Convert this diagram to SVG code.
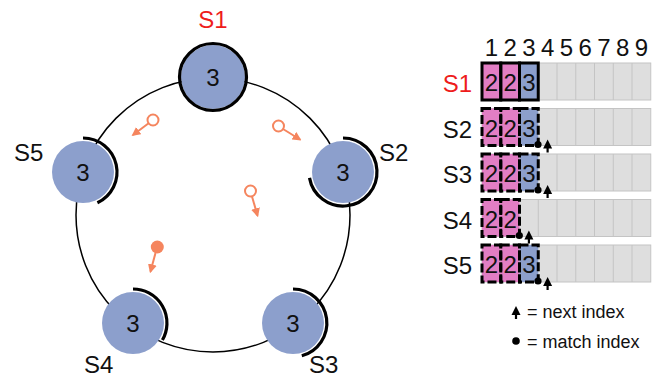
<svg xmlns="http://www.w3.org/2000/svg" xmlns:xlink="http://www.w3.org/1999/xlink" width="659" height="379" viewBox="0 0 659 379">
<style>
text{font-family:"Liberation Sans",Arial,sans-serif;fill:#111}
.lbl{font-size:24px}
.red{fill:#EE1C1C}
.num{font-size:24px;text-anchor:middle}
.node{fill:#8C9FCC}
.arc{fill:none;stroke:#000;stroke-width:3.2}
.ring{fill:none;stroke:#000;stroke-width:1.5}
.msg{stroke:#F5855E;stroke-width:2;fill:none}
.gray{fill:#DEDEDE;stroke:#C4C4C4;stroke-width:1}
.pink{fill:#E27EC4}
.blue{fill:#8C9FCC}
.solid{fill:none;stroke:#000;stroke-width:3}
.dash{fill:none;stroke:#000;stroke-width:3;stroke-dasharray:9 3}
.leg{font-size:18px}
</style>
<defs>
<marker id="ah" viewBox="0 0 10 10" refX="8" refY="5" markerWidth="4.5" markerHeight="4.5" orient="auto" markerUnits="strokeWidth">
<path d="M0,0 L10,5 L0,10 z" fill="#F5855E"/>
</marker>
<g id="up"><path d="M0,0 L4.5,9 L-4.5,9 z" fill="#000"/><line x1="0" y1="7" x2="0" y2="13" stroke="#000" stroke-width="2.2"/></g>
</defs>

<g id="connectors">
<circle class="ring" cx="213" cy="215" r="137"/>
<g id="msg1"><circle class="msg" cx="153" cy="120" r="5.5"/><line class="msg" x1="148.6" y1="123.3" x2="133" y2="135" marker-end="url(#ah)"/></g>
<g id="msg2"><circle class="msg" cx="278.5" cy="126" r="5.5"/><line class="msg" x1="283" y1="129" x2="300" y2="139.5" marker-end="url(#ah)"/></g>
<g id="msg3"><circle class="msg" cx="250.5" cy="191" r="5.5"/><line class="msg" x1="252" y1="196.5" x2="257.5" y2="215.5" marker-end="url(#ah)"/></g>
<g id="msg4"><circle cx="157.3" cy="247" r="6.5" fill="#F5855E"/><line class="msg" x1="155.5" y1="253" x2="150.5" y2="271.5" marker-end="url(#ah)"/></g>
</g>

<g id="S1">
<circle class="node" cx="213" cy="77" r="32"/>
<circle class="arc" cx="213" cy="77" r="33.5"/>
<text class="num" x="213" y="86">3</text>
<text class="lbl red" x="213" y="28" text-anchor="middle">S1</text>
</g>
<g id="S2">
<circle class="node" cx="343" cy="172" r="31"/>
<path class="arc" d="M343,138 A34,34 0 1 1 309.5,177.9"/>
<text class="num" x="343" y="181">3</text>
<text class="lbl" x="379" y="161">S2</text>
</g>
<g id="S3">
<circle class="node" cx="293" cy="323" r="31"/>
<path class="arc" d="M293,289 A34,34 0 0 1 301.8,355.8"/>
<text class="num" x="293" y="332">3</text>
<text class="lbl" x="309" y="373">S3</text>
</g>
<g id="S4">
<circle class="node" cx="133" cy="323" r="31"/>
<path class="arc" d="M133,289 A34,34 0 0 1 162.4,340"/>
<text class="num" x="133" y="332">3</text>
<text class="lbl" x="84" y="373">S4</text>
</g>
<g id="S5">
<circle class="node" cx="83" cy="172" r="31"/>
<path class="arc" d="M83,138 A34,34 0 0 1 97.4,202.8"/>
<text class="num" x="83" y="181">3</text>
<text class="lbl" x="14" y="161">S5</text>
</g>

<g id="indices">
<text class="num" x="491.4" y="56">1</text>
<text class="num" x="510.1" y="56">2</text>
<text class="num" x="528.9" y="56">3</text>
<text class="num" x="547.6" y="56">4</text>
<text class="num" x="566.4" y="56">5</text>
<text class="num" x="585.1" y="56">6</text>
<text class="num" x="603.9" y="56">7</text>
<text class="num" x="622.6" y="56">8</text>
<text class="num" x="641.4" y="56">9</text>
</g>

<g id="logS1">
<rect class="gray" x="482" y="63" width="168.75" height="37"/>
<path d="M557,63v37M575.75,63v37M594.5,63v37M613.25,63v37M632,63v37" stroke="#C4C4C4"/>
<rect class="pink" x="482" y="63" width="18.75" height="37"/><rect class="pink" x="500.75" y="63" width="18.75" height="37"/><rect class="blue" x="519.5" y="63" width="18.75" height="37"/>
<rect class="solid" x="482" y="63" width="18.75" height="37"/><rect class="solid" x="500.75" y="63" width="18.75" height="37"/><rect class="solid" x="519.5" y="63" width="18.75" height="37"/>
<text class="num" x="491.4" y="91">2</text><text class="num" x="510.1" y="91">2</text><text class="num" x="528.9" y="91">3</text>
<text class="lbl red" x="472" y="92" text-anchor="end">S1</text>
</g>

<g id="logS2">
<rect class="gray" x="482" y="108.5" width="168.75" height="37"/>
<path d="M557,108.5v37M575.75,108.5v37M594.5,108.5v37M613.25,108.5v37M632,108.5v37" stroke="#C4C4C4"/>
<rect class="pink" x="482" y="108.5" width="18.75" height="37"/><rect class="pink" x="500.75" y="108.5" width="18.75" height="37"/><rect class="blue" x="519.5" y="108.5" width="18.75" height="37"/>
<rect class="dash" x="482" y="108.5" width="18.75" height="37"/><rect class="dash" x="500.75" y="108.5" width="18.75" height="37"/><rect class="dash" x="519.5" y="108.5" width="18.75" height="37"/>
<text class="num" x="491.4" y="136.5">2</text><text class="num" x="510.1" y="136.5">2</text><text class="num" x="528.9" y="136.5">3</text>
<text class="lbl" x="472" y="137.5" text-anchor="end">S2</text>
<circle cx="538" cy="144.5" r="3.6" fill="#000"/><use xlink:href="#up" x="547.6" y="139.5"/>
</g>

<g id="logS3">
<rect class="gray" x="482" y="154" width="168.75" height="37"/>
<path d="M557,154v37M575.75,154v37M594.5,154v37M613.25,154v37M632,154v37" stroke="#C4C4C4"/>
<rect class="pink" x="482" y="154" width="18.75" height="37"/><rect class="pink" x="500.75" y="154" width="18.75" height="37"/><rect class="blue" x="519.5" y="154" width="18.75" height="37"/>
<rect class="dash" x="482" y="154" width="18.75" height="37"/><rect class="dash" x="500.75" y="154" width="18.75" height="37"/><rect class="dash" x="519.5" y="154" width="18.75" height="37"/>
<text class="num" x="491.4" y="182">2</text><text class="num" x="510.1" y="182">2</text><text class="num" x="528.9" y="182">3</text>
<text class="lbl" x="472" y="183" text-anchor="end">S3</text>
<circle cx="538" cy="190" r="3.6" fill="#000"/><use xlink:href="#up" x="547.6" y="185"/>
</g>

<g id="logS4">
<rect class="gray" x="482" y="199.5" width="168.75" height="37"/>
<path d="M538.25,199.5v37M557,199.5v37M575.75,199.5v37M594.5,199.5v37M613.25,199.5v37M632,199.5v37" stroke="#C4C4C4"/>
<rect class="pink" x="482" y="199.5" width="18.75" height="37"/><rect class="pink" x="500.75" y="199.5" width="18.75" height="37"/>
<rect class="dash" x="482" y="199.5" width="18.75" height="37"/><rect class="dash" x="500.75" y="199.5" width="18.75" height="37"/>
<text class="num" x="491.4" y="227.5">2</text><text class="num" x="510.1" y="227.5">2</text>
<text class="lbl" x="472" y="228.5" text-anchor="end">S4</text>
<circle cx="519.3" cy="235.5" r="3.6" fill="#000"/><use xlink:href="#up" x="528.9" y="230.5"/>
</g>

<g id="logS5">
<rect class="gray" x="482" y="245" width="168.75" height="37"/>
<path d="M557,245v37M575.75,245v37M594.5,245v37M613.25,245v37M632,245v37" stroke="#C4C4C4"/>
<rect class="pink" x="482" y="245" width="18.75" height="37"/><rect class="pink" x="500.75" y="245" width="18.75" height="37"/><rect class="blue" x="519.5" y="245" width="18.75" height="37"/>
<rect class="dash" x="482" y="245" width="18.75" height="37"/><rect class="dash" x="500.75" y="245" width="18.75" height="37"/><rect class="dash" x="519.5" y="245" width="18.75" height="37"/>
<text class="num" x="491.4" y="273">2</text><text class="num" x="510.1" y="273">2</text><text class="num" x="528.9" y="273">3</text>
<text class="lbl" x="472" y="274" text-anchor="end">S5</text>
<circle cx="538" cy="281" r="3.6" fill="#000"/><use xlink:href="#up" x="547.6" y="277"/>
</g>

<g id="legend">
<use xlink:href="#up" x="516" y="306"/>
<text class="leg" x="527" y="317.5">= next index</text>
<circle cx="516" cy="341" r="3.8" fill="#000"/>
<text class="leg" x="527" y="348">= match index</text>
</g>
</svg>
